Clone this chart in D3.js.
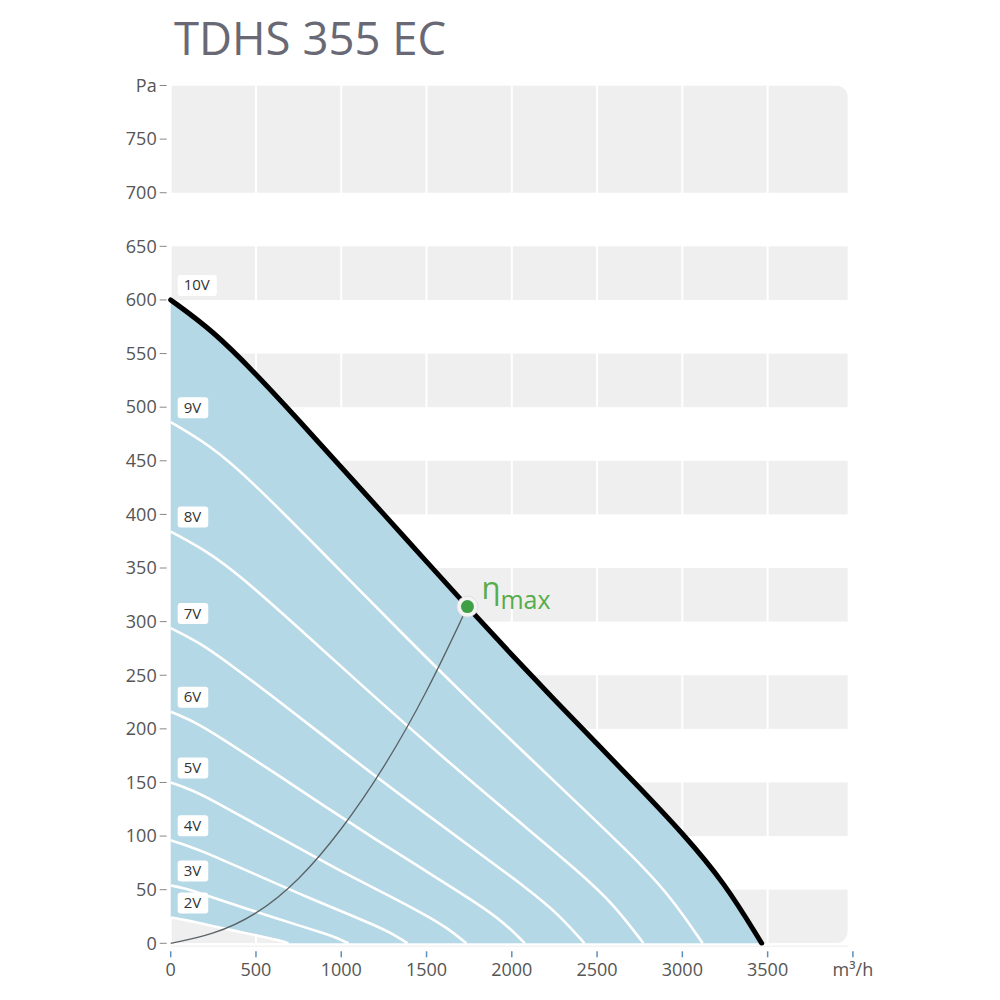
<!DOCTYPE html>
<html>
<head>
<meta charset="utf-8">
<script src="https://cdn.jsdelivr.net/npm/d3@7"></script>
<style>
  body { margin: 0; background: #fff; }
  svg { display: block; font-family: "Open Sans", sans-serif; }
</style>
</head>
<body>
<svg id="chart" width="1000" height="1000"></svg>
<script>
// curve labels, top to bottom
const voltages = ["10V", "9V", "8V", "7V", "6V", "5V", "4V", "3V", "2V"];

// airflow (m3/h) and static pressure (Pa)
const flows = [
  [0, 250, 500, 750, 1000, 1250, 1500, 1750, 2000, 2250, 2500, 2750, 3000, 3250, 3465],
  [0, 225, 450, 900, 1350, 1800, 2250, 2700, 2925, 3119],
  [0, 200, 400, 800, 1200, 1600, 2000, 2400, 2600, 2772],
  [0, 175, 350, 700, 1050, 1400, 1750, 2100, 2275, 2426],
  [0, 150, 300, 600, 900, 1200, 1500, 1800, 1950, 2077],
  [0, 125, 250, 500, 750, 1000, 1250, 1500, 1625, 1733],
  [0, 100, 200, 400, 600, 800, 1000, 1200, 1300, 1388],
  [0, 75, 150, 300, 450, 600, 750, 900, 975, 1042],
  [0, 50, 100, 200, 300, 400, 500, 600, 650, 690]
];
const pressures = [
  [600, 571, 531, 488, 444, 400, 356, 312, 269, 227, 186, 145, 103, 56, 0],
  [486, 465, 435, 363, 290, 219, 151, 83, 45, 0],
  [384, 367, 344, 287, 229, 173, 119, 66, 36, 0],
  [294, 280, 260, 218, 174, 132, 91, 50, 27, 0],
  [216, 206, 191, 160, 128, 97, 67, 37, 20, 0],
  [150, 143, 133, 111, 89, 67, 47, 26, 14, 0],
  [96, 91, 85, 71, 57, 43, 30, 16.5, 9, 0],
  [54, 51.4, 47.8, 40, 32, 24.2, 16.7, 9.3, 5, 0],
  [24, 22.8, 21.2, 17.8, 14.2, 10.8, 7.4, 4.1, 2.2, 0]
];

// max efficiency line
const etaFlow = [0, 250, 500, 750, 1000, 1250, 1500, 1740];
const etaPressure = [0, 8, 26, 58, 105, 163, 233, 314];

const xTicks = [0, 500, 1000, 1500, 2000, 2500, 3000, 3500];
const yTicks = [0, 50, 100, 150, 200, 250, 300, 350, 400, 450, 500, 550, 600, 650, 700, 750];
const greyBands = [[0, 50], [100, 150], [200, 250], [300, 350], [400, 450], [500, 550], [600, 650], [700, 800]];

const svg = d3.select("#chart");
const x = d3.scaleLinear().domain([0, 4000]).range([170.7, 852.9]);
const y = d3.scaleLinear().domain([0, 800]).range([943.3, 85.5]);
const plotRight = 3970;

svg.append("text")
  .attr("x", 174)
  .attr("y", 55)
  .attr("font-size", 45.5)
  .attr("fill", "#696975")
  .text("TDHS 355 EC");

// background bands, clipped to a rounded panel
const defs = svg.append("defs");
defs.append("clipPath").attr("id", "panel")
  .append("rect")
  .attr("x", x(0) - 14)
  .attr("y", y(800))
  .attr("width", x(plotRight) - x(0) + 14)
  .attr("height", y(0) - y(800))
  .attr("rx", 12);

const bg = svg.append("g").attr("clip-path", "url(#panel)");
bg.selectAll("rect")
  .data(greyBands)
  .join("rect")
  .attr("x", x(0) + 1)
  .attr("y", (d) => y(d[1]))
  .attr("width", x(plotRight) - x(0) - 1)
  .attr("height", (d) => y(d[0]) - y(d[1]))
  .attr("fill", "#efefef");

bg.selectAll("line")
  .data(xTicks.slice(1))
  .join("line")
  .attr("x1", (d) => x(d))
  .attr("x2", (d) => x(d))
  .attr("y1", y(800))
  .attr("y2", y(0))
  .attr("stroke", "#fff")
  .attr("stroke-width", 2);

const series = voltages.map((v, i) =>
  flows[i].map((q, j) => ({ q: q, p: pressures[i][j] }))
);

const line = d3.line()
  .x((d) => x(d.q))
  .y((d) => y(d.p))
  .curve(d3.curveBasis);

const area = d3.area()
  .x((d) => x(d.q))
  .y0(y(0))
  .y1((d) => y(d.p))
  .curve(d3.curveBasis);

// blue band between the 10V and 2V curves
svg.append("path")
  .attr("d", area(series[0]) + area(series[series.length - 1]))
  .attr("fill-rule", "evenodd")
  .attr("fill", "#b5d8e6");

svg.append("g")
  .selectAll("path")
  .data(series.slice(1))
  .join("path")
  .attr("d", line)
  .attr("fill", "none")
  .attr("stroke", "#fff")
  .attr("stroke-width", 2.6);

const eta = etaFlow.map((q, j) => ({ q: q, p: etaPressure[j] }));
svg.append("path")
  .attr("d", line(eta))
  .attr("fill", "none")
  .attr("stroke", "#5a6266")
  .attr("stroke-width", 1.3);

svg.append("path")
  .attr("d", line(series[0]))
  .attr("fill", "none")
  .attr("stroke", "#000")
  .attr("stroke-width", 5)
  .attr("stroke-linecap", "round");

// eta max marker
const etaTop = eta[eta.length - 1];
svg.append("circle")
  .attr("cx", x(etaTop.q))
  .attr("cy", y(etaTop.p))
  .attr("r", 10.5)
  .attr("fill", "#f4f4f4")
  .attr("stroke", "#dcdcdc")
  .attr("stroke-width", 0.8);
svg.append("circle")
  .attr("cx", x(etaTop.q))
  .attr("cy", y(etaTop.p))
  .attr("r", 6.5)
  .attr("fill", "#3f9f45");

const etaText = svg.append("text")
  .attr("x", x(etaTop.q) + 14)
  .attr("y", y(etaTop.p) - 8)
  .attr("fill", "#55ad4c");
etaText.append("tspan").attr("font-size", 31).text("η");
etaText.append("tspan").attr("font-size", 25).attr("dy", 10).text("max");

// voltage labels at the start of each curve
const labels = svg.append("g")
  .selectAll("g")
  .data(series)
  .join("g")
  .attr("transform", (d) => `translate(${x(0) + 7},${y(d[0].p) - 4})`);

labels.append("rect")
  .attr("y", -21)
  .attr("height", 21)
  .attr("rx", 3)
  .attr("fill", "#fff");

labels.append("text")
  .attr("x", 6)
  .attr("y", -5.5)
  .attr("font-size", 15)
  .attr("fill", "#333")
  .text((d, i) => voltages[i]);

labels.each(function () {
  const g = d3.select(this);
  const w = g.select("text").node().getComputedTextLength();
  g.select("rect").attr("width", w + 13);
});

// axes
const yAxis = svg.append("g");
yAxis.selectAll("line")
  .data(yTicks.concat([800]))
  .join("line")
  .attr("x1", x(0) - 11)
  .attr("x2", x(0) - 4)
  .attr("y1", (d) => y(d))
  .attr("y2", (d) => y(d))
  .attr("stroke", "#888")
  .attr("stroke-width", 1);

yAxis.selectAll("text")
  .data(yTicks.concat([800]))
  .join("text")
  .attr("x", x(0) - 14)
  .attr("y", (d) => y(d))
  .attr("dy", "0.35em")
  .attr("text-anchor", "end")
  .attr("font-size", 18)
  .attr("fill", "#555")
  .text((d) => (d === 800 ? "Pa" : d));

const xAxis = svg.append("g");
xAxis.append("line")
  .attr("x1", x(0))
  .attr("x2", x(plotRight))
  .attr("y1", y(0) + 3)
  .attr("y2", y(0) + 3)
  .attr("stroke", "#f3f3f3")
  .attr("stroke-width", 1.5);

xAxis.selectAll(".tick")
  .data(xTicks.concat([4000]))
  .join("line")
  .attr("class", "tick")
  .attr("x1", (d) => x(d))
  .attr("x2", (d) => x(d))
  .attr("y1", y(0) + 8)
  .attr("y2", y(0) + 14)
  .attr("stroke", "#5b8fbd")
  .attr("stroke-width", 1.5);

xAxis.selectAll("text")
  .data(xTicks)
  .join("text")
  .attr("x", (d) => x(d))
  .attr("y", y(0) + 33)
  .attr("text-anchor", "middle")
  .attr("font-size", 18)
  .attr("fill", "#555")
  .text((d) => d);

xAxis.append("text")
  .attr("x", x(4000))
  .attr("y", y(0) + 33)
  .attr("text-anchor", "middle")
  .attr("font-size", 18)
  .attr("fill", "#555")
  .text("m³/h");
</script>
</body>
</html>
